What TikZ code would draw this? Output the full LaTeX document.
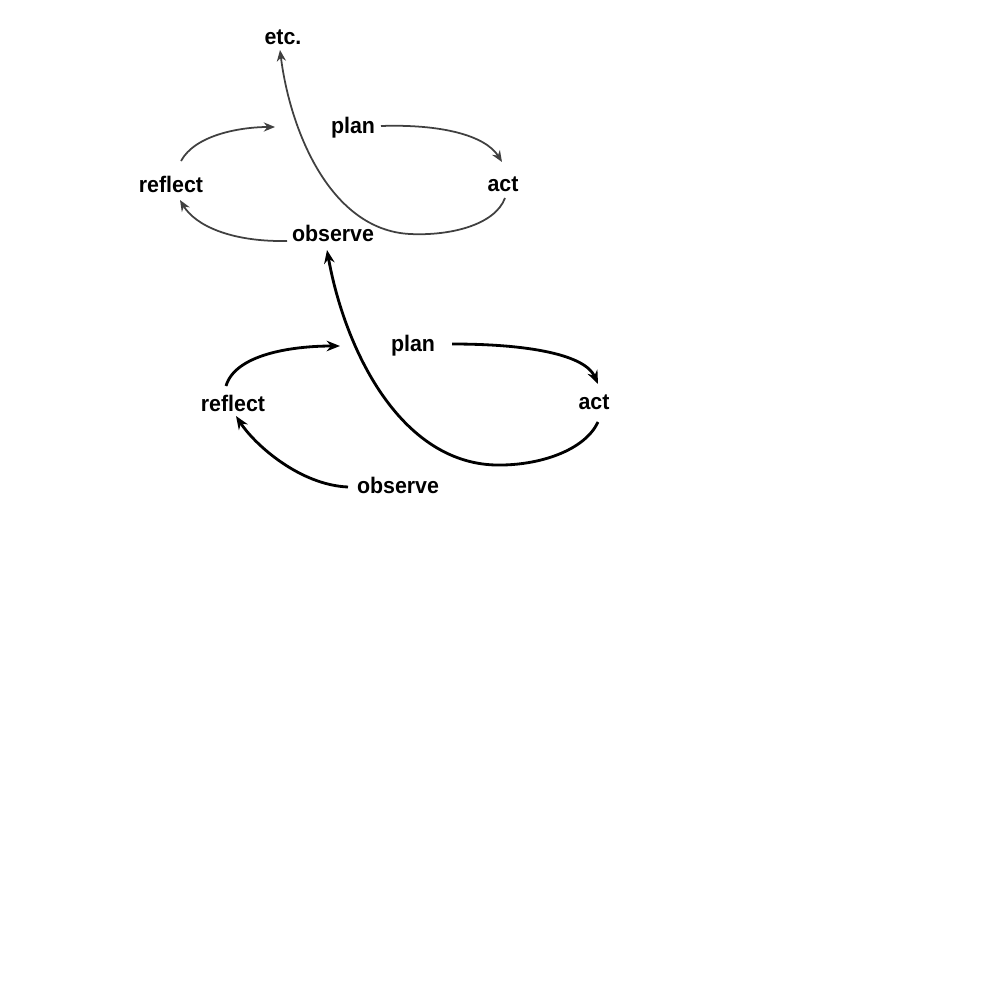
\documentclass[tikz,border=0pt]{standalone}
\usepackage{fontspec}
\setmainfont{Liberation Sans}[FakeStretch=0.95]
\usetikzlibrary{arrows.meta}
\begin{document}
\begin{tikzpicture}[x=0.01cm,y=-0.01cm,
  lbl/.style={inner sep=0pt,font=\fontsize{6.4}{7.5}\selectfont\bfseries},
  thin cyc/.style={draw=black!75,line width=0.5pt,-{Stealth[length=3.2pt,width=2.6pt]}},
  thick cyc/.style={draw=black,line width=0.8pt,-{Stealth[length=3.8pt,width=3pt]}}]
\useasboundingbox (0,0) rectangle (1000,1000);
% top cycle labels
\node[lbl] (etc)  at (283,37)  {etc.};
\node[lbl] (tplan) at (353,128) {plan};
\node[lbl] (tact) at (503,184) {act};
\node[lbl] (tref) at (171,184) {reflect};
\node[lbl] (tobs) at (333,233) {observe};
% bottom cycle labels
\node[lbl] (bplan) at (413,346) {plan};
\node[lbl] (bact) at (594,402) {act};
\node[lbl] (bref) at (233,403) {reflect};
\node[lbl] (bobs) at (398,485) {observe};
% endpoints
\coordinate (t1s) at (181,161); \coordinate (t1e) at (275,127);
\coordinate (t2s) at (381,126); \coordinate (t2e) at (502,162);
\coordinate (t3s) at (505,198); \coordinate (t3m) at (410,234); \coordinate (t3e) at (280,50);
\coordinate (t4s) at (287,241); \coordinate (t4e) at (180,200);
\coordinate (b1s) at (226,386); \coordinate (b1e) at (340,346);
\coordinate (b2s) at (452,344); \coordinate (b2e) at (598,384);
\coordinate (b3s) at (598,422); \coordinate (b3m) at (495,465); \coordinate (b3e) at (327,250);
\coordinate (b4s) at (348,487); \coordinate (b4e) at (236,416);
% top cycle arrows
\draw[thin cyc] (t1s) .. controls (195,135) and (240,127) .. (t1e);
\draw[thin cyc] (t2s) .. controls (440,124) and (485,135) .. (t2e);
\draw[thin cyc] (t3s) .. controls (495,225) and (450,236) .. (t3m) .. controls (330,230) and (290,130) .. (t3e);
\draw[thin cyc] (t4s) .. controls (230,242) and (195,225) .. (t4e);
% bottom cycle arrows
\draw[thick cyc] (b1s) .. controls (235,355) and (290,346) .. (b1e);
\draw[thick cyc] (b2s) .. controls (530,344) and (585,355) .. (b2e);
\draw[thick cyc] (b3s) .. controls (585,450) and (540,466) .. (b3m) .. controls (400,462) and (345,350) .. (b3e);
\draw[thick cyc] (b4s) .. controls (300,485) and (255,445) .. (b4e);
\end{tikzpicture}
\end{document}
